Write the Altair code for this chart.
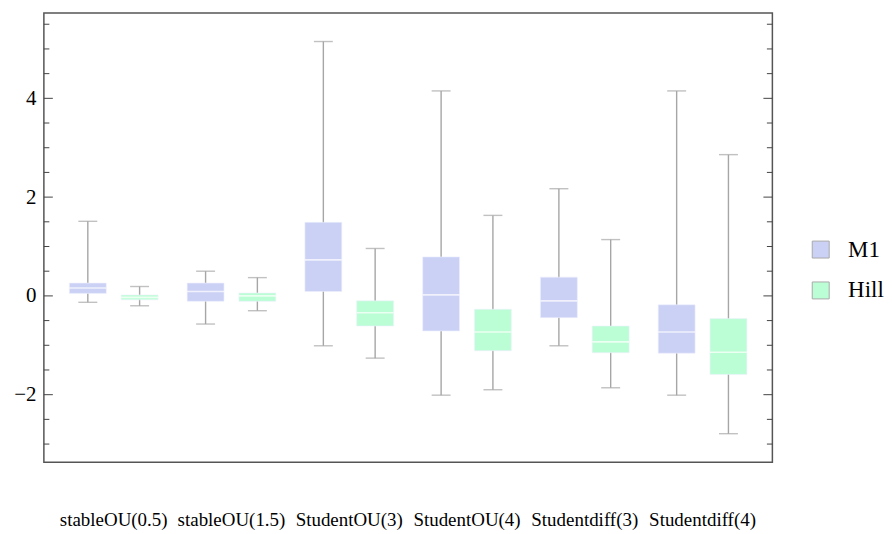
import altair as alt
import pandas as pd

categories = ["stableOU(0.5)", "stableOU(1.5)", "StudentOU(3)", "StudentOU(4)", "Studentdiff(3)", "Studentdiff(4)"]
series = ["M1", "Hill"]

# per series: lower whisker, q1, median, q3, upper whisker
m1_lower = [-0.13, -0.57, -1.01, -2.01, -1.01, -2.01]
m1_q1 = [0.05, -0.11, 0.09, -0.71, -0.44, -1.16]
m1_median = [0.16, 0.09, 0.73, 0.02, -0.10, -0.73]
m1_q3 = [0.26, 0.26, 1.49, 0.79, 0.38, -0.18]
m1_upper = [1.51, 0.50, 5.15, 4.15, 2.17, 4.15]

hill_lower = [-0.20, -0.30, -1.26, -1.90, -1.86, -2.79]
hill_q1 = [-0.08, -0.11, -0.61, -1.11, -1.15, -1.59]
hill_median = [-0.03, 0.00, -0.34, -0.73, -0.93, -1.14]
hill_q3 = [0.02, 0.06, -0.10, -0.27, -0.61, -0.46]
hill_upper = [0.19, 0.37, 0.96, 1.63, 1.14, 2.86]

colors = ["#cbd1f5", "#bbfed5"]

y_ticks_major = [-2, 0, 2, 4]
y_ticks_minor = [-3, -2.5, -1.5, -1, -0.5, 0.5, 1, 1.5, 2.5, 3, 3.5, 4.5, 5, 5.5]
y_min, y_max = -3.37, 5.73

rows = []
for s, lo, q1, md, q3, hi in [
    ("M1", m1_lower, m1_q1, m1_median, m1_q3, m1_upper),
    ("Hill", hill_lower, hill_q1, hill_median, hill_q3, hill_upper),
]:
    for i, c in enumerate(categories):
        rows.append(dict(cat=c, series=s, lower=lo[i], q1=q1[i], median=md[i], q3=q3[i], upper=hi[i]))
df = pd.DataFrame(rows)

W, H = 731, 451
FONT = "Liberation Serif"

xenc = alt.X("cat:N", sort=categories, title=None,
             scale=alt.Scale(paddingInner=0, paddingOuter=0.093),
             axis=alt.Axis(labelAngle=0, labelFont=FONT, labelFontSize=19, labelColor="black",
                           ticks=False, domain=False, labelPadding=48, grid=False))
xoff = alt.XOffset("series:N", sort=series, scale=alt.Scale(paddingInner=0, paddingOuter=0.137))
yscale = alt.Scale(domain=[y_min, y_max], nice=False, zero=False)
yenc_axis = alt.Axis(values=y_ticks_major, labelFont=FONT, labelFontSize=21, labelColor="black",
                     ticks=False, domain=False, grid=False, labelPadding=8, title=None)
color = alt.Color("series:N", sort=series, scale=alt.Scale(domain=series, range=colors),
                  legend=alt.Legend(title=None, orient="none", legendX=768, legendY=226,
                                    symbolType="square", symbolSize=289, symbolStrokeColor="#aaaaaa",
                                    symbolStrokeWidth=1, symbolOpacity=1,
                                    labelFont=FONT, labelFontSize=23, labelColor="black",
                                    labelOffset=16, rowPadding=17))

base = alt.Chart(df)

whisk = base.mark_rule(color="#a6a6a6", strokeWidth=1.4).encode(
    x=xenc, xOffset=xoff,
    y=alt.Y("lower:Q", scale=yscale, axis=yenc_axis), y2="upper:Q")
caps_lo = base.mark_tick(color="#a6a6a6", size=19, thickness=1.4, orient="horizontal").encode(
    x=xenc, xOffset=xoff, y=alt.Y("lower:Q", scale=yscale))
caps_hi = base.mark_tick(color="#a6a6a6", size=19, thickness=1.4, orient="horizontal").encode(
    x=xenc, xOffset=xoff, y=alt.Y("upper:Q", scale=yscale))
box = base.mark_bar(size=37, opacity=1, stroke="#eef0fd", strokeWidth=0.6).encode(
    x=xenc, xOffset=xoff, y=alt.Y("q1:Q", scale=yscale), y2="q3:Q", color=color)
med = base.mark_tick(color="white", size=37, thickness=1.6, orient="horizontal").encode(
    x=xenc, xOffset=xoff, y=alt.Y("median:Q", scale=yscale))

tick_major = pd.DataFrame({"v": y_ticks_major})
tick_minor = pd.DataFrame({"v": y_ticks_minor})
tick_col = "#444444"
lmaj = alt.Chart(tick_major).mark_rule(color=tick_col, strokeWidth=1).encode(
    y=alt.Y("v:Q", scale=yscale), x=alt.value(0), x2=alt.value(9))
lmin = alt.Chart(tick_minor).mark_rule(color=tick_col, strokeWidth=1).encode(
    y=alt.Y("v:Q", scale=yscale), x=alt.value(0), x2=alt.value(5.5))
rmaj = alt.Chart(tick_major).mark_rule(color=tick_col, strokeWidth=1).encode(
    y=alt.Y("v:Q", scale=yscale), x=alt.value(W - 9), x2=alt.value(W))
rmin = alt.Chart(tick_minor).mark_rule(color=tick_col, strokeWidth=1).encode(
    y=alt.Y("v:Q", scale=yscale), x=alt.value(W - 5.5), x2=alt.value(W))

chart = alt.layer(whisk, caps_lo, caps_hi, box, med, lmaj, lmin, rmaj, rmin).properties(
    width=W, height=H,
    autosize=alt.AutoSizeParams(type="none"),
    padding={"left": 36, "top": 4, "right": 112, "bottom": 70},
    background="white",
).configure_view(stroke="#555555", strokeWidth=1.5)

chart.save("out.html", embed_options={"renderer": "svg", "actions": False})
